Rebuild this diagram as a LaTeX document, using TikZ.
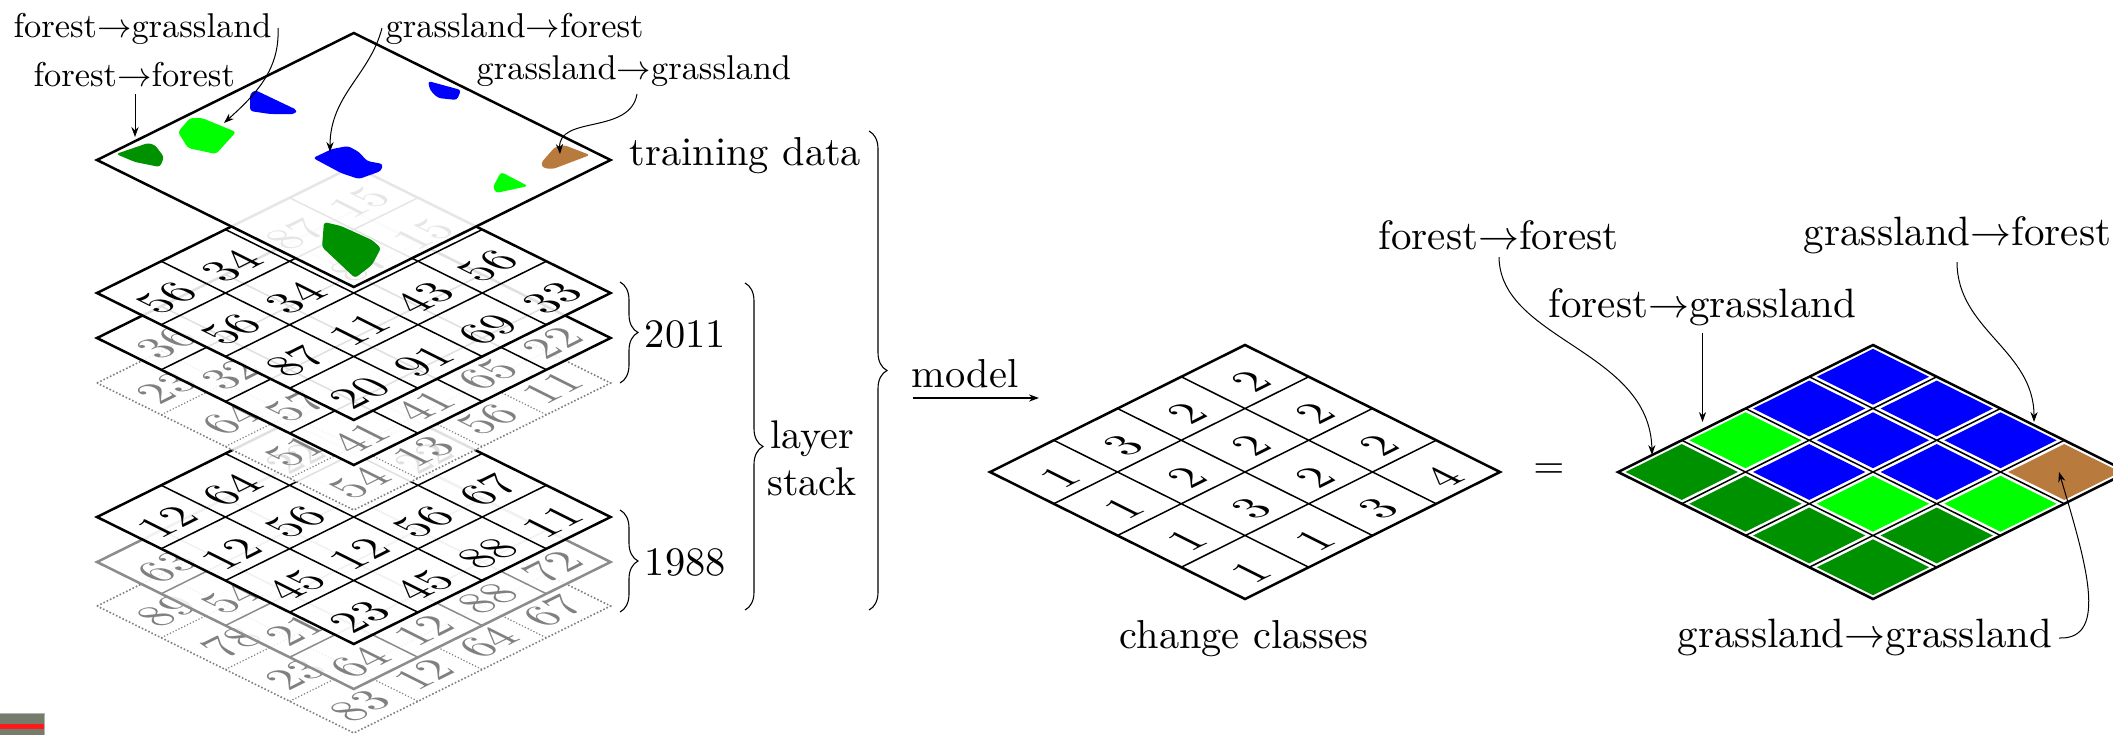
\documentclass[tikz,border=0pt]{standalone}
\usetikzlibrary{decorations.pathreplacing,arrows.meta}
\definecolor{dkgreen}{RGB}{0,145,0}
\definecolor{brgreen}{RGB}{0,255,0}
\definecolor{pureblue}{RGB}{0,0,255}
\definecolor{soilbrown}{RGB}{184,122,61}
\definecolor{thumbgray}{RGB}{118,124,108}
\tikzset{
  gridline/.style={line width=.75pt},
  outerline/.style={line width=1.25pt,line join=miter},
  digit/.style={inner sep=0pt,cm={2.08,1.04,-2.08,1.04,(0,0)}},
  lab/.style={inner sep=0pt,anchor=base west,scale=2.02},
  biglab/.style={inner sep=0pt,anchor=base west,scale=2.05},
  smalllab/.style={inner sep=0pt,anchor=base west,scale=1.72},
  conn/.style={line width=.5pt,-{Stealth[length=5pt,width=3.6pt]}},
  bracket/.style={line width=.55pt,decorate,decoration={brace,amplitude=#1}},
  blob/.style={rounded corners=1.5pt,draw=none},
}
% \stacklayer{name}{left x}{left y}{grid style}{outer style}{number colour}{i/j/number list}
\newcommand{\stacklayer}[7]{%
  \begin{scope}[shift={(#2,#3)},x={(32.1pt,15.875pt)},y={(32.1pt,-15.875pt)}]
    \fill[white,opacity=.88] (0,0) -- (4,0) -- (4,4) -- (0,4) -- cycle;
    \draw[#4] (1,0) -- (1,4) (2,0) -- (2,4) (3,0) -- (3,4) (0,1) -- (4,1) (0,2) -- (4,2) (0,3) -- (4,3);
    \draw[#5] (0,0) -- (4,0) -- (4,4) -- (0,4) -- cycle;
    \foreach \i/\j/\t in {#7}
      \node[digit,text=#6] (n#1-\i-\j) at (\i+.47,\j+.625) {\t};
  \end{scope}}
\begin{document}
\begin{tikzpicture}[x=.5pt,y=-.5pt]
\useasboundingbox (0,0) rectangle (2113,735);
\clip (0,0) rectangle (2113,735);
% lower stack
\stacklayer{f}{97}{606}{gray,densely dotted,line width=.6pt}{gray,densely dotted,line width=.8pt}{black!50}{0/0/89,0/1/78,0/2/23,0/3/83,1/3/12,2/3/64,3/3/67}
\stacklayer{e}{97}{562}{black!45,line width=.75pt}{black!45,line width=1.25pt}{black!50}{0/0/63,0/1/54,0/2/21,0/3/64,1/3/12,2/3/88,3/3/72}
\stacklayer{d}{97}{517}{gridline}{outerline}{black}{0/0/12,1/0/64,2/0/22,0/1/12,1/1/56,3/1/22,0/2/45,1/2/12,2/2/56,3/2/67,0/3/23,1/3/45,2/3/88,3/3/11}
\stacklayer{c}{97}{383}{gray,densely dotted,line width=.6pt}{gray,densely dotted,line width=.8pt}{black!50}{0/0/23,0/1/64,0/2/51,0/3/54,1/3/13,2/3/56,3/3/11}
\stacklayer{b}{97}{338}{gridline}{outerline}{black!50}{0/0/36,0/1/32,0/2/57,0/3/41,1/3/41,2/3/65,3/3/22}
\stacklayer{a}{97}{293}{gridline}{outerline}{black}{0/0/56,1/0/34,2/0/87,3/0/15,0/1/56,1/1/34,2/1/87,3/1/15,0/2/87,1/2/11,2/2/43,3/2/56,0/3/20,1/3/91,2/3/69,3/3/33}
% training plane
\begin{scope}[shift={(97,160)},x={(128.4pt,63.5pt)},y={(128.4pt,-63.5pt)}]
  \fill[white,opacity=.9] (0,0) -- (1,0) -- (1,1) -- (0,1) -- cycle;
  \draw[outerline] (0,0) -- (1,0) -- (1,1) -- (0,1) -- cycle;
\end{scope}
\fill[dkgreen,blob] (116,154) -- (148,143) -- (155,145) -- (164,157) -- (160,167) -- (135,162) -- cycle;
\fill[brgreen,blob] (178,132) -- (190,118) -- (202,118) -- (236,132) -- (216,154) -- (188,148) -- cycle;
\fill[pureblue,blob] (250,94) -- (255,90) -- (297,110) -- (295,114) -- (270,114) -- (250,111) -- cycle;
\fill[pureblue,blob] (428,81) -- (461,90) -- (457,100) -- (438,98) -- (430,90) -- cycle;
\fill[pureblue,blob] (313,158) -- (332,149) -- (348,146) -- (359,152) -- (367,161) -- (383,164) -- (381,171) -- (359,179) -- (341,173) -- cycle;
\fill[soilbrown,blob] (541,163) -- (555,147) -- (564,145) -- (590,155) -- (553,169) -- (543,168) -- cycle;
\fill[brgreen,blob] (501,172) -- (528,186) -- (496,193) -- (493,187) -- cycle;
\fill[dkgreen,blob] (324,222) -- (341,226) -- (372,240) -- (381,248) -- (372,265) -- (355,278) -- (322,247) -- cycle;
% left labels
\node[smalllab] (lfg) at (13,37) {forest$\rightarrow$grassland};
\node[smalllab] (lff) at (33,86) {forest$\rightarrow$forest};
\node[smalllab] (lgf) at (385,37) {grassland$\rightarrow$forest};
\node[smalllab] (lgg) at (476,79) {grassland$\rightarrow$grassland};
\coordinate (a1s) at (135,94); \coordinate (a1e) at (135,137);
\coordinate (a2s) at (278,28); \coordinate (a2e) at (224,123);
\coordinate (a3s) at (382,28); \coordinate (a3e) at (330,152);
\coordinate (a4s) at (637,94); \coordinate (a4e) at (560,154);
\draw[conn] (a1s) -- (a1e);
\draw[conn] (a2s) .. controls (280,70) and (255,95) .. (a2e);
\draw[conn] (a3s) .. controls (370,75) and (330,95) .. (a3e);
\draw[conn] (a4s) .. controls (630,135) and (558,115) .. (a4e);
\node[lab] (ltrain) at (629,165) {training data};
\node[lab] (l2011) at (644,347) {2011};
\node[lab] (l1988) at (644,575) {1988};
\node[scale=2,inner sep=0pt,align=center] (lstack) at (812,458) {layer\\[-.2pt]stack};
% braces
\coordinate (b1t) at (620,282); \coordinate (b1b) at (620,383);
\coordinate (b2t) at (620,510); \coordinate (b2b) at (620,612);
\coordinate (b3t) at (745,283); \coordinate (b3b) at (745,610);
\coordinate (b4t) at (869,131); \coordinate (b4b) at (869,610);
\draw[bracket=9pt] (b1t) -- (b1b);
\draw[bracket=9pt] (b2t) -- (b2b);
\draw[bracket=9pt] (b3t) -- (b3b);
\draw[bracket=9pt] (b4t) -- (b4b);
% model
\node[lab] (lmodel) at (911,387) {model};
\coordinate (ms) at (913,398); \coordinate (me) at (1039,398);
\draw[line width=.8pt,-{Stealth[length=5pt,width=3.6pt]}] (ms) -- (me);
% change classes
\begin{scope}[shift={(990,472)},x={(31.875pt,15.875pt)},y={(31.875pt,-15.875pt)}]
  \draw[gridline] (1,0) -- (1,4) (2,0) -- (2,4) (3,0) -- (3,4) (0,1) -- (4,1) (0,2) -- (4,2) (0,3) -- (4,3);
  \draw[outerline] (0,0) -- (4,0) -- (4,4) -- (0,4) -- cycle;
  \foreach \i/\j/\t in {0/0/1,1/0/3,2/0/2,3/0/2,0/1/1,1/1/2,2/1/2,3/1/2,0/2/1,1/2/3,2/2/2,3/2/2,0/3/1,1/3/1,2/3/3,3/3/4}
    \node[digit] (cl-\i-\j) at (\i+.47,\j+.625) {\t};
\end{scope}
\node[lab,anchor=base] (lchange) at (1244,648) {change classes};
\node[scale=2,inner sep=0pt] (leq) at (1549,471) {$=$};
% coloured map
\begin{scope}[shift={(1618,472)},x={(31.875pt,15.875pt)},y={(31.875pt,-15.875pt)}]
  \foreach \i/\j/\c in {0/0/dkgreen,1/0/brgreen,2/0/pureblue,3/0/pureblue,0/1/dkgreen,1/1/pureblue,2/1/pureblue,3/1/pureblue,0/2/dkgreen,1/2/brgreen,2/2/pureblue,3/2/pureblue,0/3/dkgreen,1/3/dkgreen,2/3/brgreen,3/3/soilbrown}
    \fill[\c] (\i+.06,\j+.06) -- (\i+.94,\j+.06) -- (\i+.94,\j+.94) -- (\i+.06,\j+.94) -- cycle;
  \draw[gridline] (1,0) -- (1,4) (2,0) -- (2,4) (3,0) -- (3,4) (0,1) -- (4,1) (0,2) -- (4,2) (0,3) -- (4,3);
  \draw[outerline] (0,0) -- (4,0) -- (4,4) -- (0,4) -- cycle;
\end{scope}
\node[biglab] (rff) at (1378,249) {forest$\rightarrow$forest};
\node[biglab] (rfg) at (1548,317) {forest$\rightarrow$grassland};
\node[biglab] (rgf) at (1803,245) {grassland$\rightarrow$forest};
\node[biglab] (rgg) at (1677,647) {grassland$\rightarrow$grassland};
\coordinate (c1s) at (1499,257); \coordinate (c1e) at (1652,455);
\coordinate (c2s) at (1702.5,333); \coordinate (c2e) at (1702.5,422);
\coordinate (c3s) at (1957,262); \coordinate (c3e) at (2034,422);
\coordinate (c4s) at (2059,638); \coordinate (c4e) at (2059,472);
\draw[conn] (c1s) .. controls (1500,340) and (1650,350) .. (c1e);
\draw[conn] (c2s) -- (c2e);
\draw[conn] (c3s) .. controls (1957,330) and (2034,350) .. (c3e);
\draw[conn] (c4s) .. controls (2110,640) and (2085,560) .. (c4e);
% thumbnail
\fill[thumbgray] (0,713) rectangle (44,735);
\fill[red!90!white] (0,724) rectangle (44,729);
\draw[black!30,line width=.5pt] (0,713) -- (44,713) -- (44,735);
\end{tikzpicture}
\end{document}
